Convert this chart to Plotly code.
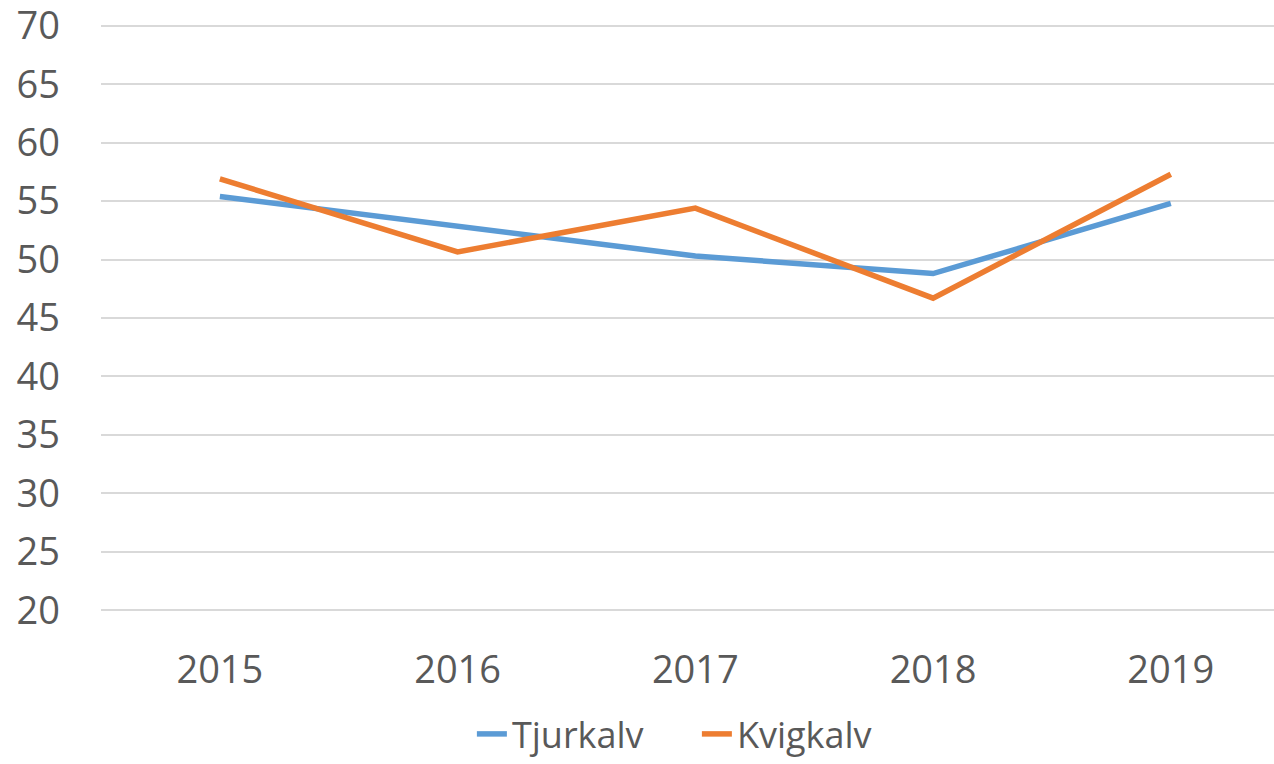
import plotly.graph_objects as go

years = ["2015", "2016", "2017", "2018", "2019"]
tjurkalv = [55.4, 52.8, 50.3, 48.8, 54.8]
kvigkalv = [56.9, 50.65, 54.4, 46.7, 57.3]

FONT = "Open Sans, Liberation Sans, sans-serif"
TXT = "#595959"

fig = go.Figure()
fig.add_trace(go.Scatter(x=list(range(len(years))), y=tjurkalv, name="Tjurkalv", mode="lines",
                         line=dict(color="#5b9bd5", width=5.5)))
fig.add_trace(go.Scatter(x=list(range(len(years))), y=kvigkalv, name="Kvigkalv", mode="lines",
                         line=dict(color="#ed7d31", width=5.5)))

fig.update_layout(
    width=1274, height=764,
    margin=dict(l=101, r=0, t=24, b=152, autoexpand=False),
    paper_bgcolor="white", plot_bgcolor="white",
    font=dict(family=FONT, color=TXT, size=38),
    showlegend=True,
    legend=dict(orientation="h", x=0.508, xanchor="center", yref="container", y=0.0, yanchor="bottom",
                font=dict(size=36, color=TXT), entrywidth=180, entrywidthmode="pixels"),
    xaxis=dict(range=[-0.5, 4.434], tickmode="array", tickvals=list(range(len(years))), ticktext=years,
               showgrid=False, zeroline=False, showline=False, ticks="", ticklabelstandoff=32,
               tickfont=dict(size=38, color=TXT), automargin=False, ticklabeloverflow="allow"),
    yaxis=dict(range=[19.85, 70.15], tickmode="array", tickvals=list(range(20, 71, 5)),
               showgrid=True, gridcolor="#d9d9d9", gridwidth=2,
               zeroline=False, showline=False, ticks="", ticklabelstandoff=40,
               tickfont=dict(size=38, color=TXT), automargin=False, ticklabeloverflow="allow"),
)
fig.write_html("out.html", config={"displayModeBar": False},
               post_script="document.body.style.margin='0';document.body.style.overflow='hidden';")
